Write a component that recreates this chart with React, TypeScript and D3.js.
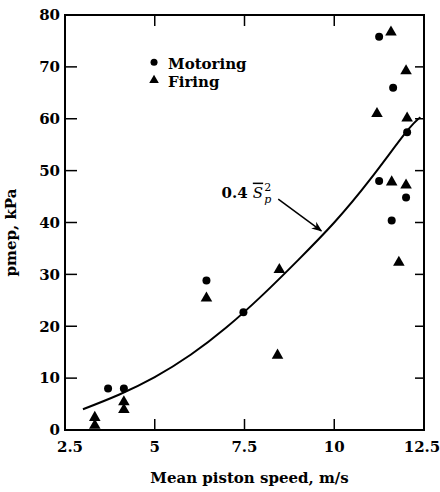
import React from 'react';
import * as d3 from 'd3';

const W = 440;
const H = 492;
const MARGIN = { top: 15, right: 16, bottom: 62, left: 65 };
const FONT = '"DejaVu Serif", "Liberation Serif", serif';

// motoring (circles): [speed m/s, pmep kPa]
const motoring = [
  [3.7, 8], [4.14, 8], [6.44, 28.8], [7.47, 22.7],
  [11.25, 75.8], [11.64, 66], [12.03, 57.4], [11.25, 48],
  [12.0, 44.8], [11.6, 40.4]
];

// firing (triangles)
const firing = [
  [3.33, 2.4], [3.33, 0.9], [4.14, 5.4], [4.14, 3.9],
  [6.44, 25.4], [8.47, 30.9], [8.42, 14.4], [11.58, 76.7],
  [12.0, 69.2], [11.19, 61], [12.03, 60.1], [11.6, 47.8],
  [12.0, 47.2], [11.8, 32.3]
];

// fitted curve 0.4 Sp^2
const fitCurve = [
  [3.0, 4.0], [4.0, 6.8], [5.0, 10.2], [6.0, 14.5], [7.0, 19.8],
  [8.0, 26.0], [9.0, 32.8], [10.0, 40.0], [11.0, 48.3], [12.0, 57.4], [12.4, 60.3]
];

const xTicks = [2.5, 5, 7.5, 10, 12.5];
const yTicks = [0, 10, 20, 30, 40, 50, 60, 70, 80];

// annotation arrow (data units)
const arrowFrom = [8.44, 44.5];
const arrowTo = [9.64, 38.4];
const labelAt = [6.86, 44.8];

export default function App() {
  const innerW = W - MARGIN.left - MARGIN.right;
  const innerH = H - MARGIN.top - MARGIN.bottom;
  const x = d3.scaleLinear().domain([2.5, 12.5]).range([0, innerW]);
  const y = d3.scaleLinear().domain([0, 80]).range([innerH, 0]);

  const line = d3.line<number[]>()
    .x(d => x(d[0]))
    .y(d => y(d[1]))
    .curve(d3.curveNatural);

  const tri = d3.symbol().type(d3.symbolTriangle).size(58)();

  const textStyle = { fontFamily: FONT, fontWeight: 'bold' as const, fill: '#000' };
  const inner = (v: number) => v > xTicks[0] && v < xTicks[xTicks.length - 1];
  const innerY = (v: number) => v > 0 && v < 80;

  return <svg width={W} height={H} style={{ position: 'absolute', left: 0, top: 0, background: '#fff' }}>
    <defs>
      <marker id='arr' viewBox='0 0 10 10' refX='9' refY='5' markerWidth='7' markerHeight='7' orient='auto'>
        <path d='M0,1L10,5L0,9L3,5Z' fill='#000' />
      </marker>
    </defs>
    <g transform={`translate(${MARGIN.left},${MARGIN.top})`}>
      <rect x={0} y={0} width={innerW} height={innerH} fill='none' stroke='#000' strokeWidth={2} />

      {/* x ticks, inward top and bottom */}
      {xTicks.filter(inner).map(t =>
        <g key={'xt' + t}>
          <line x1={x(t)} x2={x(t)} y1={innerH} y2={innerH - 11} stroke='#000' strokeWidth={1.5} />
          <line x1={x(t)} x2={x(t)} y1={0} y2={11} stroke='#000' strokeWidth={1.5} />
        </g>
      )}
      {xTicks.map((t, i) =>
        <text key={'xl' + t} x={x(t) + (i === 0 ? 5 : i === xTicks.length - 1 ? -2 : 0)} y={innerH + 22}
          textAnchor='middle' fontSize={15} style={textStyle}>{String(t)}</text>
      )}

      {/* y ticks, inward left and right */}
      {yTicks.filter(innerY).map(t =>
        <g key={'yt' + t}>
          <line x1={0} x2={12} y1={y(t)} y2={y(t)} stroke='#000' strokeWidth={1.5} />
          <line x1={innerW} x2={innerW - 9} y1={y(t)} y2={y(t)} stroke='#000' strokeWidth={1.5} />
        </g>
      )}
      {yTicks.map(t =>
        <text key={'yl' + t} x={-5} y={y(t)} dy='0.35em' textAnchor='end' fontSize={15} style={textStyle}>{String(t)}</text>
      )}

      {/* fitted curve */}
      <path d={line(fitCurve) || ''} fill='none' stroke='#000' strokeWidth={2} />

      {/* data */}
      {motoring.map((d, i) =>
        <circle key={'m' + i} cx={x(d[0])} cy={y(d[1])} r={4} fill='#000' />
      )}
      {firing.map((d, i) =>
        <path key={'f' + i} d={tri || ''} transform={`translate(${x(d[0])},${y(d[1])})`} fill='#000' />
      )}

      {/* annotation */}
      <line x1={x(arrowFrom[0])} y1={y(arrowFrom[1])} x2={x(arrowTo[0])} y2={y(arrowTo[1])}
        stroke='#000' strokeWidth={1.5} markerEnd='url(#arr)' />
      <text x={x(labelAt[0])} y={y(labelAt[1])} fontSize={15} style={{ fontFamily: FONT, fill: '#000' }}>
        <tspan fontWeight='bold'>0.4 </tspan>
        <tspan fontStyle='italic' style={{ textDecoration: 'overline' }}>S</tspan>
        <tspan fontSize={11} dx={1} dy={-7}>2</tspan>
        <tspan fontSize={11} fontStyle='italic' dx={-7} dy={12}>p</tspan>
      </text>

      {/* legend */}
      <g transform={`translate(${x(4.98)},${y(70.9)})`}>
        <circle cx={0} cy={0} r={3.5} fill='#000' />
        <text x={14} y={2} dy='0.35em' fontSize={15} style={textStyle}>Motoring</text>
        <path d={d3.symbol().type(d3.symbolTriangle).size(40)() || ''} transform='translate(0,18)' fill='#000' />
        <text x={14} y={20} dy='0.35em' fontSize={15} style={textStyle}>Firing</text>
      </g>

      {/* axis titles */}
      <text x={innerW / 2 + 5} y={innerH + 53} textAnchor='middle' fontSize={15} style={textStyle}>Mean piston speed, m/s</text>
      <text transform={`translate(${-49},${innerH / 2 + 10}) rotate(-90)`} textAnchor='middle' fontSize={15} style={textStyle}>pmep, kPa</text>
    </g>
  </svg>;
}
